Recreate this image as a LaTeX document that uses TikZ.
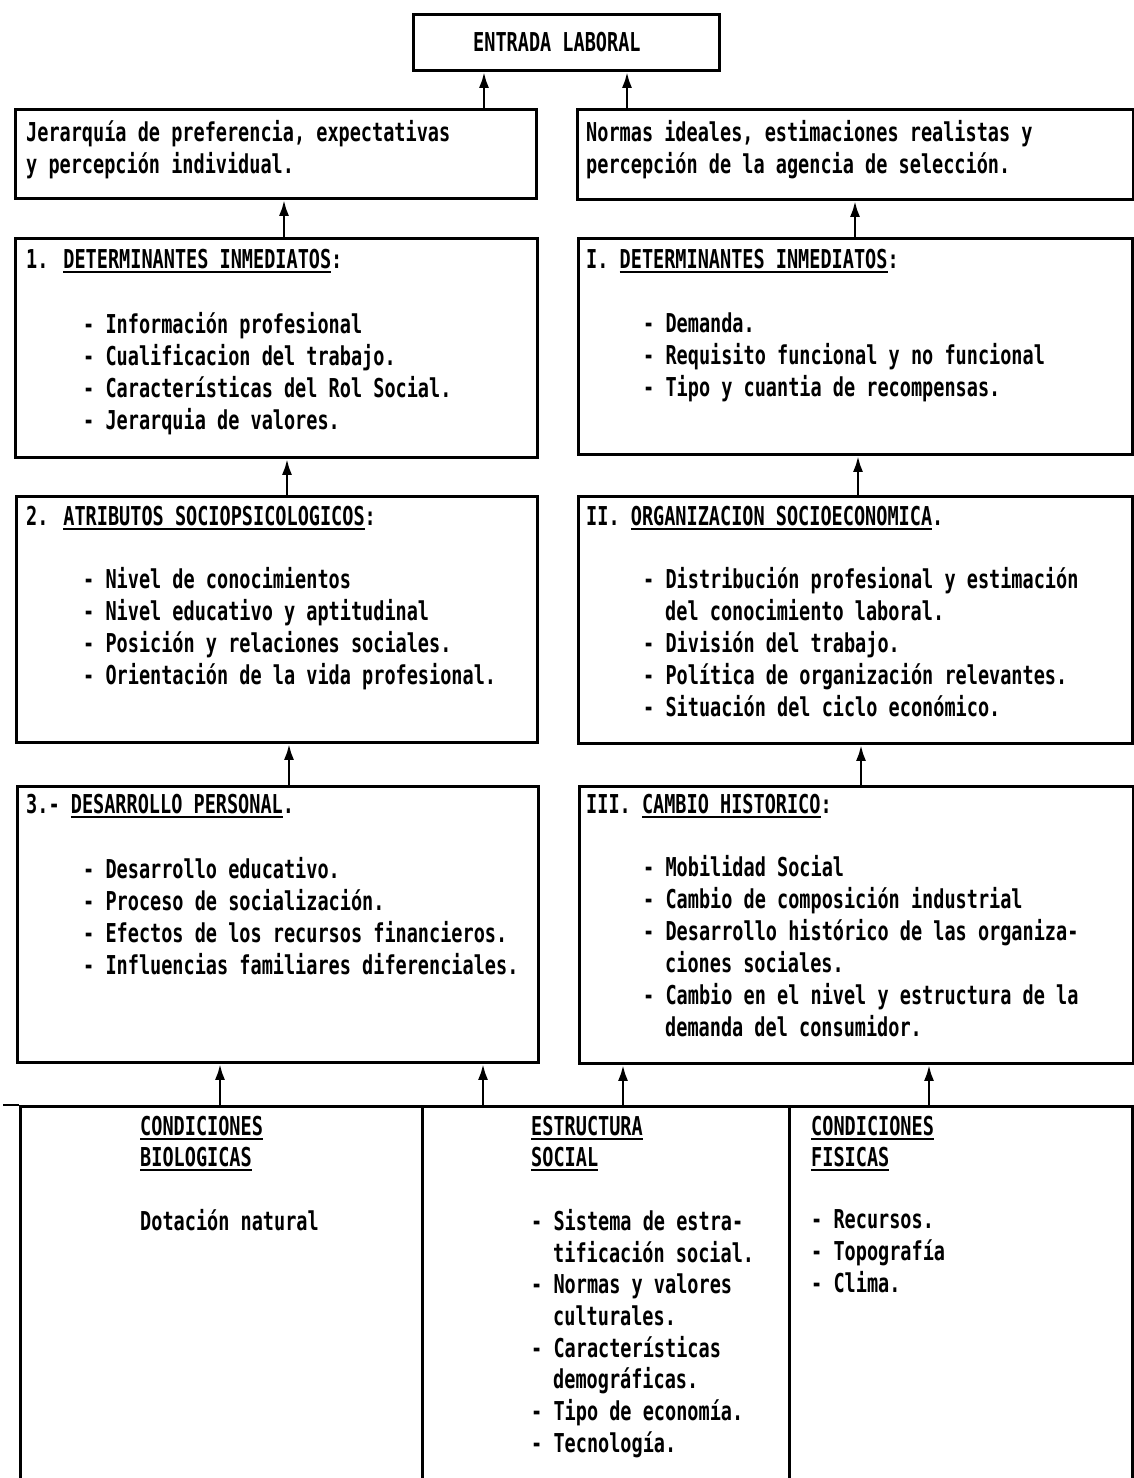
\documentclass[tikz,border=0pt]{standalone}
\usepackage{fontspec}
\newfontfamily\dmono[FakeStretch=0.713]{DejaVu Sans Mono}
\usetikzlibrary{arrows.meta}
\newcommand\uln[1]{\setbox0=\hbox{#1}\rlap{\rule[-5pt]{\wd0}{2.2pt}}\box0}
\begin{document}
\begin{tikzpicture}[x=1pt,y=-1pt,
  box/.style={draw, line width=2.8pt, anchor=north west, inner sep=0pt},
  txt/.style={anchor=base west, inner sep=0pt, font=\dmono\bfseries\fontsize{26}{30}\selectfont},
  arr/.style={line width=2.8pt, -{Latex[length=16pt,width=10pt]}}]
\useasboundingbox (0,0) rectangle (1134,1478);
% boxes
\node[box, minimum width=306, minimum height=56] (top) at (412,13) {};
\node[box, minimum width=521, minimum height=89] (l1) at (14,108) {};
\node[box, minimum width=556, minimum height=90] (r1) at (576,108) {};
\node[box, minimum width=522, minimum height=219] (l2) at (14,237) {};
\node[box, minimum width=554, minimum height=216] (r2) at (577,237) {};
\node[box, minimum width=521, minimum height=246] (l3) at (15,495) {};
\node[box, minimum width=554, minimum height=247] (r3) at (577,495) {};
\node[box, minimum width=521, minimum height=276] (l4) at (16,785) {};
\node[box, minimum width=554, minimum height=277] (r4) at (578,785) {};
\node[box, minimum width=402, minimum height=400] (b1) at (19,1105) {};
\node[box, minimum width=367, minimum height=400] (b2) at (421,1105) {};
\node[box, minimum width=343, minimum height=400] (b3) at (788,1105) {};
\draw[line width=2.8pt] (b1.north west) -- ++(-16,0);
\draw[line width=2.8pt] (b3.north east) -- ++(4,0);
% arrow columns
\coordinate (c1) at (484,0);
\coordinate (c2) at (627,0);
\coordinate (c3) at (284,0);
\coordinate (c4) at (855,0);
\coordinate (c5) at (287,0);
\coordinate (c6) at (858,0);
\coordinate (c7) at (289,0);
\coordinate (c8) at (861,0);
\coordinate (c9) at (220,0);
\coordinate (c10) at (483,0);
\coordinate (c11) at (623,0);
\coordinate (c12) at (929,0);
\draw[arr] (l1.north -| c1) -- (top.south -| c1);
\draw[arr] (r1.north -| c2) -- (top.south -| c2);
\draw[arr] (l2.north -| c3) -- (l1.south -| c3);
\draw[arr] (r2.north -| c4) -- (r1.south -| c4);
\draw[arr] (l3.north -| c5) -- (l2.south -| c5);
\draw[arr] (r3.north -| c6) -- (r2.south -| c6);
\draw[arr] (l4.north -| c7) -- (l3.south -| c7);
\draw[arr] (r4.north -| c8) -- (r3.south -| c8);
\draw[arr] (b1.north -| c9) -- (l4.south -| c9);
\draw[arr] (b2.north -| c10) -- (l4.south -| c10);
\draw[arr] (b2.north -| c11) -- (r4.south -| c11);
\draw[arr] (b3.north -| c12) -- (r4.south -| c12);
% texts
\node[txt] (t0) at (473,51) {ENTRADA LABORAL};
\node[txt] (ta1) at (26,141) {Jerarquía de preferencia, expectativas};
\node[txt] (ta2) at (26,173) {y percepción individual.};
\node[txt] (tb1) at (586,141) {Normas ideales, estimaciones realistas y};
\node[txt] (tb2) at (586,173) {percepción de la agencia de selección.};
% row 2
\node[txt] (tc0) at (26,268) {1. \uln{DETERMINANTES INMEDIATOS}:};
\node[txt] (tc1) at (83,333) {- Información profesional};
\node[txt] (tc2) at (83,365) {- Cualificacion del trabajo.};
\node[txt] (tc3) at (83,397) {- Características del Rol Social.};
\node[txt] (tc4) at (83,429) {- Jerarquia de valores.};
\node[txt] (td0) at (586,268) {I. \uln{DETERMINANTES INMEDIATOS}:};
\node[txt] (td1) at (643,332) {- Demanda.};
\node[txt] (td2) at (643,364) {- Requisito funcional y no funcional};
\node[txt] (td3) at (643,396) {- Tipo y cuantia de recompensas.};
% row 3
\node[txt] (te0) at (26,525) {2. \uln{ATRIBUTOS SOCIOPSICOLOGICOS}:};
\node[txt] (te1) at (83,588) {- Nivel de conocimientos};
\node[txt] (te2) at (83,620) {- Nivel educativo y aptitudinal};
\node[txt] (te3) at (83,652) {- Posición y relaciones sociales.};
\node[txt] (te4) at (83,684) {- Orientación de la vida profesional.};
\node[txt] (tf0) at (586,525) {II. \uln{ORGANIZACION SOCIOECONOMICA}.};
\node[txt] (tf1) at (643,588) {- Distribución profesional y estimación};
\node[txt] (tf2) at (665,620) {del conocimiento laboral.};
\node[txt] (tf3) at (643,652) {- División del trabajo.};
\node[txt] (tf4) at (643,684) {- Política de organización relevantes.};
\node[txt] (tf5) at (643,716) {- Situación del ciclo económico.};
% row 4
\node[txt] (tg0) at (26,813) {3.- \uln{DESARROLLO PERSONAL}.};
\node[txt] (tg1) at (83,878) {- Desarrollo educativo.};
\node[txt] (tg2) at (83,910) {- Proceso de socialización.};
\node[txt] (tg3) at (83,942) {- Efectos de los recursos financieros.};
\node[txt] (tg4) at (83,974) {- Influencias familiares diferenciales.};
\node[txt] (th0) at (586,813) {III. \uln{CAMBIO HISTORICO}:};
\node[txt] (th1) at (643,876) {- Mobilidad Social};
\node[txt] (th2) at (643,908) {- Cambio de composición industrial};
\node[txt] (th3) at (643,940) {- Desarrollo histórico de las organiza-};
\node[txt] (th4) at (665,972) {ciones sociales.};
\node[txt] (th5) at (643,1004) {- Cambio en el nivel y estructura de la};
\node[txt] (th6) at (665,1036) {demanda del consumidor.};
% bottom
\node[txt] (ti0) at (140,1135) {\uln{CONDICIONES}};
\node[txt] (ti1) at (140,1166) {\uln{BIOLOGICAS}};
\node[txt] (ti2) at (140,1230) {Dotación natural};
\node[txt] (tj0) at (531,1135) {\uln{ESTRUCTURA}};
\node[txt] (tj1) at (531,1166) {\uln{SOCIAL}};
\node[txt] (tj2) at (531,1230) {- Sistema de estra-};
\node[txt] (tj3) at (553,1262) {tificación social.};
\node[txt] (tj4) at (531,1293) {- Normas y valores};
\node[txt] (tj5) at (553,1325) {culturales.};
\node[txt] (tj6) at (531,1357) {- Características};
\node[txt] (tj7) at (553,1388) {demográficas.};
\node[txt] (tj8) at (531,1420) {- Tipo de economía.};
\node[txt] (tj9) at (531,1452) {- Tecnología.};
\node[txt] (tk0) at (811,1135) {\uln{CONDICIONES}};
\node[txt] (tk1) at (811,1166) {\uln{FISICAS}};
\node[txt] (tk2) at (811,1228) {- Recursos.};
\node[txt] (tk3) at (811,1260) {- Topografía};
\node[txt] (tk4) at (811,1292) {- Clima.};
\end{tikzpicture}
\end{document}
